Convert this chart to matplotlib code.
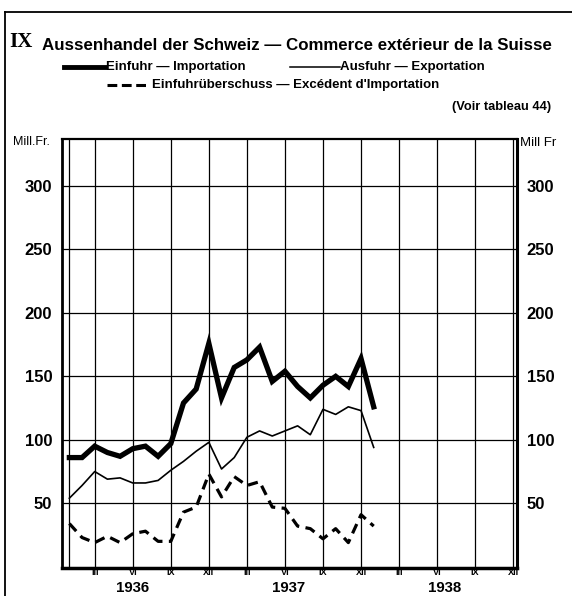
import numpy as np
import matplotlib
matplotlib.use("Agg")
import matplotlib.pyplot as plt
from matplotlib.lines import Line2D
from matplotlib.transforms import blended_transform_factory

plt.rcParams['font.family'] = ['Liberation Sans', 'DejaVu Sans']

# months counted from Jan 1936 = 1
months = np.arange(1, 26)
einfuhr = [86, 86, 95, 90, 87, 93, 95, 87, 97, 129, 140, 176, 133, 157, 163,
           173, 146, 154, 142, 133, 143, 150, 142, 164, 126]
ausfuhr = [54, 64, 75, 69, 70, 66, 66, 68, 76, 83, 91, 98, 77, 86, 102,
           107, 103, 107, 111, 104, 124, 120, 126, 123, 94]
ueberschuss = [34, 23, 19, 24, 19, 26, 28, 20, 20, 43, 47, 73, 55, 71, 64,
               67, 47, 46, 32, 30, 22, 30, 19, 41, 32]

y_ticks = [50, 100, 150, 200, 250, 300]
quarter_ticks = [3, 6, 9, 12, 15, 18, 21, 24, 27, 30, 33, 36]
quarter_labels = ["III", "VI", "IX", "XII"] * 3
years = ["1936", "1937", "1938"]

W, H = 572, 596
fig = plt.figure(figsize=(W / 100, H / 100), dpi=100)


def fx(x):
    return x / W


def fy(y):
    return 1 - y / H


ax = fig.add_axes([fx(62), fy(568), fx(517) - fx(62), fy(139) - fy(568)])
ax.set_xlim(0.42, 36.3)
ax.set_ylim(-1, 337)

# grid
for v in y_ticks:
    ax.axhline(v, color="black", lw=0.9, zorder=1)
for m in [1] + quarter_ticks:
    ax.axvline(m, color="black", lw=0.9, zorder=1)

ax.plot(months, einfuhr, color="black", lw=3.8, solid_joinstyle="miter", zorder=3)
ax.plot(months, ausfuhr, color="black", lw=1.2, zorder=3)
ax.plot(months, ueberschuss, color="black", lw=2.3, dashes=(3.2, 2.0), zorder=3)

for side, w in [("left", 2.0), ("bottom", 2.5), ("top", 1.6), ("right", 2.2)]:
    ax.spines[side].set_linewidth(w)

ax.set_yticks(y_ticks)
ax.set_yticklabels([str(v) for v in y_ticks], fontsize=12, fontweight="bold")
ax.tick_params(axis="y", length=0, pad=7, labelleft=True, labelright=True)
ax.set_xticks(quarter_ticks)
ax.set_xticklabels(quarter_labels, fontsize=6.6, fontweight="bold",
                   family=["Liberation Sans Narrow", "Liberation Sans"])
ax.tick_params(axis="x", length=0, pad=0)

# year labels under the quarter marks
year_tr = blended_transform_factory(ax.transData, fig.transFigure)
for i, yr in enumerate(years):
    ax.text(i * 12.3 + 6, fy(592.5), yr, transform=year_tr,
            ha="center", va="baseline", fontsize=10.8, fontweight="bold")

# unit labels
fig.text(fx(13), fy(142), "Mill.Fr.", fontsize=9, ha="left", va="center",
         family=["Liberation Sans Narrow", "Liberation Sans"])
fig.text(fx(520), fy(143), "Mill Fr", fontsize=9.5, ha="left", va="center",
         family=["Liberation Sans Narrow", "Liberation Sans"])

# title
fig.text(fx(9), fy(42), "IX", fontsize=15, fontweight="bold", ha="left", va="center",
         family="Liberation Serif")
fig.text(fx(42), fy(45), "Aussenhandel der Schweiz — Commerce extérieur de la Suisse",
         fontsize=12.2, fontweight="bold", ha="left", va="center")

# legend drawn by hand
fig.add_artist(Line2D([fx(64), fx(105)], [fy(67), fy(67)], color="black", lw=3.5,
                      transform=fig.transFigure))
fig.text(fx(106), fy(67), "Einfuhr — Importation", fontsize=9.5, fontweight="bold",
         ha="left", va="center")
fig.add_artist(Line2D([fx(290), fx(340)], [fy(67), fy(67)], color="black", lw=1.1,
                      transform=fig.transFigure))
fig.text(fx(340), fy(67), "Ausfuhr — Exportation", fontsize=9.5, fontweight="bold",
         ha="left", va="center")
fig.add_artist(Line2D([fx(107), fx(150)], [fy(85), fy(85)], color="black", lw=2.2,
                      dashes=(3.2, 1.5), transform=fig.transFigure))
fig.text(fx(152), fy(85), "Einfuhrüberschuss — Excédent d'Importation", fontsize=9.5,
         fontweight="bold", ha="left", va="center")
fig.text(fx(551), fy(107), "(Voir tableau 44)", fontsize=9.3, fontweight="bold",
         ha="right", va="center")

# outer frame
fig.add_artist(Line2D([fx(5), fx(572)], [fy(12), fy(12)], color="black", lw=1.3,
                      transform=fig.transFigure))
fig.add_artist(Line2D([fx(5), fx(5)], [fy(12), fy(596)], color="black", lw=1.3,
                      transform=fig.transFigure))

fig.savefig("out.png", dpi=100)
